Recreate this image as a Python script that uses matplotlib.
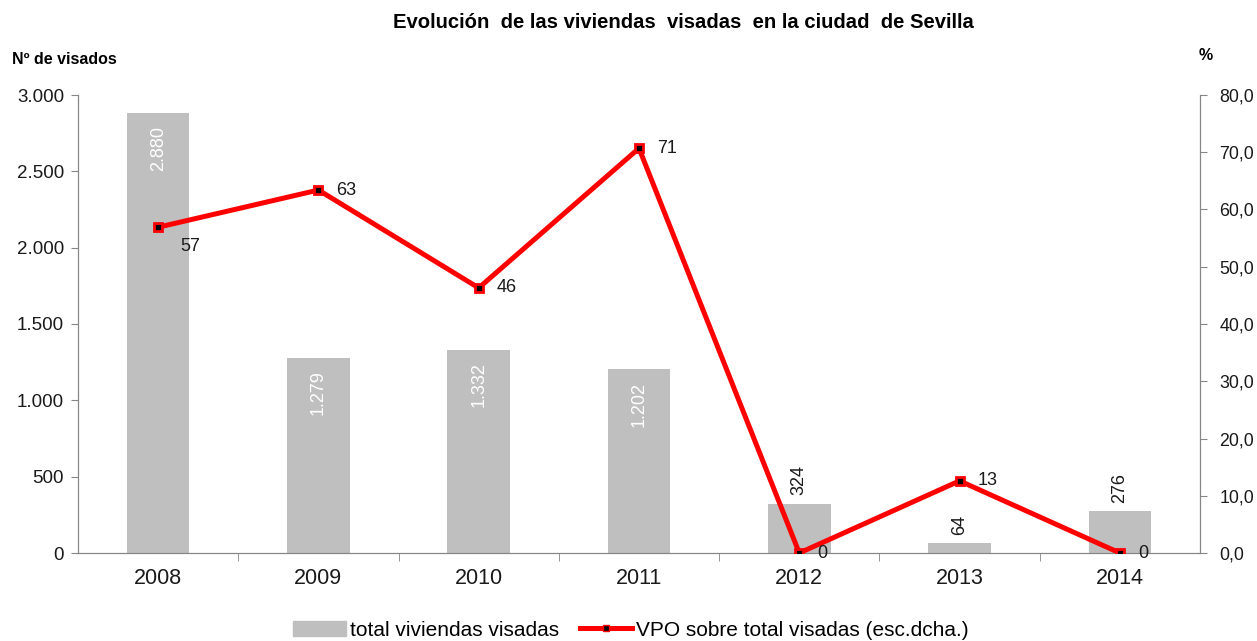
import matplotlib
matplotlib.use("Agg")
import matplotlib.pyplot as plt
from matplotlib.lines import Line2D
from matplotlib.patches import Patch

plt.rcParams['font.family'] = ['Liberation Sans', 'DejaVu Sans']

years = ['2008', '2009', '2010', '2011', '2012', '2013', '2014']
total_visadas = [2880, 1279, 1332, 1202, 324, 64, 276]
vpo_pct = [56.9, 63.4, 46.3, 70.7, 0.0, 12.6, 0.0]

fig = plt.figure(figsize=(12.57, 6.41), dpi=100)
ax = fig.add_axes([78/1257, 1-553/641, (1200-78)/1257, (553-95)/641])
ax2 = ax.twinx()

x = list(range(len(years)))
ax.bar(x, total_visadas, width=0.39, color='#BFBFBF', zorder=1)
ax.set_xlim(-0.5, len(years) - 0.5)
ax.set_ylim(0, 3000)
ax.set_yticks(range(0, 3001, 500))
ax.set_yticklabels(['0', '500', '1.000', '1.500', '2.000', '2.500', '3.000'])
ax2.set_ylim(0, 80)
ax2.set_yticks(range(0, 81, 10))
ax2.set_yticklabels([f"{v},0" for v in range(0, 81, 10)])

ax.set_xticks(x)
ax.set_xticklabels(years)
ax.set_xticks([i + 0.5 for i in range(len(years) - 1)], minor=True)
ax.tick_params(axis='x', which='major', length=0, pad=11, labelsize=15.5, colors='#1a1a1a')
ax.tick_params(axis='x', which='minor', length=6, direction='out', color='#868686')
ax.tick_params(axis='y', length=5, direction='out', color='#868686', labelsize=13.5, labelcolor='#1a1a1a', pad=5)
ax2.tick_params(axis='y', length=5, direction='out', color='#868686', labelsize=12.8, labelcolor='#1a1a1a', pad=9)

for a in (ax, ax2):
    a.spines['top'].set_visible(False)
    for s in ('left', 'right', 'bottom'):
        a.spines[s].set_color('#868686')

# Bar labels
for xi, v in zip(x, total_visadas):
    lab = f"{v:,}".replace(',', '.')
    if v > 1000:
        ax.annotate(lab, (xi, v), xytext=(0, -9), textcoords='offset points',
                    rotation=90, ha='center', va='top', color='white', fontsize=13)
    else:
        ax.annotate(lab, (xi, v), xytext=(0, 6), textcoords='offset points',
                    rotation=90, ha='center', va='bottom', color='#1a1a1a', fontsize=13)

ax2.plot(x, vpo_pct, color='#FF0000', lw=3.6, marker='s', markersize=6,
         markerfacecolor='black', markeredgecolor='#FF0000', markeredgewidth=2, zorder=3)

for i, (xi, v) in enumerate(zip(x, vpo_pct)):
    if i == 0:
        off = (16, -14)
    else:
        off = (13, 0)
    ax2.annotate(f"{v:.0f}", (xi, v), xytext=off, textcoords='offset points',
                 ha='left', va='center', fontsize=13, color='#1a1a1a')

fig.text(683/1257, 1-22/641, 'Evolución  de las viviendas  visadas  en la ciudad  de Sevilla',
         ha='center', va='center', fontsize=14.6, fontweight='bold')
fig.text(12/1257, 1-59/641, 'Nº de visados', ha='left', va='center', fontsize=11.5, fontweight='bold')
fig.text(1206/1257, 1-56/641, '%', ha='center', va='center', fontsize=11.5, fontweight='bold')

handles = [Patch(color='#BFBFBF'),
           Line2D([0], [0], color='#FF0000', lw=3.6, marker='s', markersize=4,
                  markerfacecolor='black', markeredgecolor='#FF0000')]
fig.legend(handles, ['total viviendas visadas', 'VPO sobre total visadas (esc.dcha.)'],
           loc='center', bbox_to_anchor=(631/1257, 1-630/641), ncol=2, frameon=False,
           fontsize=15, handlelength=2.5, handletextpad=0.2, columnspacing=1.0)

fig.savefig('out.png', dpi=100)
